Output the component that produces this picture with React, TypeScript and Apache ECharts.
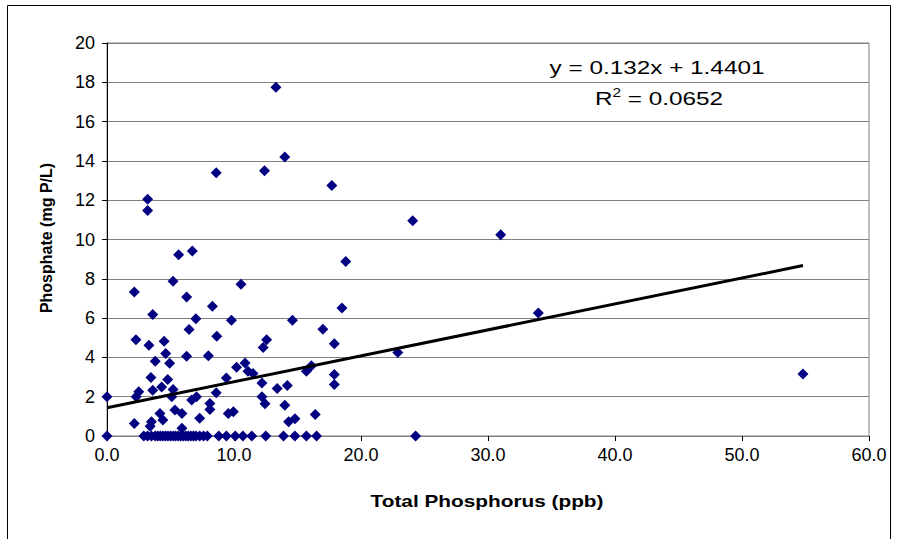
import React, { useEffect, useRef } from "react";
import * as echarts from "echarts";

const pointsX: number[] = [
  0.0, 2.15, 2.28, 2.15, 2.5, 2.3, 3.2, 3.2, 3.6, 3.3, 3.8, 3.46, 3.6, 4.3, 4.5, 4.62, 4.93, 4.78, 5.2, 5.1,
  5.2, 5.64, 6.72, 6.27, 6.46, 7.0, 6.27, 8.3, 8.64, 7.98, 10.55, 9.8, 10.2, 10.87, 11.1, 11.5, 12.3, 12.57, 12.2, 12.2,
  12.44, 13.4, 14.2, 14.0, 14.3, 14.8, 14.6, 9.4, 9.55, 9.95, 7.3, 5.9, 6.67, 7.05, 8.1, 8.1, 8.6, 5.35, 4.17, 4.4,
  3.5, 3.4, 5.9, 8.6, 12.4, 13.3, 14.0, 17.7, 24.07, 18.8, 18.5, 17.0, 17.9, 22.9, 15.7, 16.1, 17.9, 17.9, 16.4, 31.0,
  33.96, 54.8,
];
const pointsY: number[] = [
  2.0, 7.33, 4.9, 0.64, 2.25, 2.0, 12.05, 11.47, 6.18, 4.62, 3.8, 2.98, 2.33, 2.5, 4.82, 4.2, 3.7, 2.88, 2.37, 2.0,
  7.88, 9.22, 9.41, 7.07, 5.42, 5.97, 4.06, 6.6, 5.08, 4.08, 7.72, 5.89, 3.5, 3.72, 3.3, 3.18, 4.5, 4.9, 2.7, 2.0,
  1.64, 2.42, 2.57, 1.56, 0.73, 0.88, 5.89, 2.95, 1.15, 1.23, 0.9, 1.14, 1.83, 2.0, 1.66, 1.35, 2.2, 1.32, 1.15, 0.81,
  0.73, 0.5, 0.39, 13.4, 13.5, 17.75, 14.2, 12.75, 10.96, 8.88, 6.51, 5.43, 4.7, 4.25, 3.3, 3.57, 3.13, 2.62, 1.1, 10.24,
  6.26, 3.16,
];
const zeroX: number[] = [
  0, 2.9, 3.2, 3.5, 3.8, 4.0, 4.2, 4.4, 4.6, 4.8, 5.0, 5.2, 5.4, 5.6, 5.8, 6.0, 6.2, 6.4, 6.6, 6.8, 7.0, 7.3, 7.6,
  7.9, 8.8, 9.4, 10.1, 10.7, 11.4, 12.5, 13.9, 14.8, 15.7, 16.5, 24.3,
];
const slope = 0.132;
const intercept = 1.4401;
const equationText = "y = 0.132x + 1.4401";
const r2Value = "0.0652";
const xTitle = "Total Phosphorus (ppb)";
const yTitle = "Phosphate (mg P/L)";

export default function App() {
  const ref = useRef<HTMLDivElement>(null);
  useEffect(() => {
    if (!ref.current) return;
    const chart = echarts.init(ref.current, undefined, { renderer: "svg" });
    const data: number[][] = pointsX.map((x, i) => [x, pointsY[i]]);
    zeroX.forEach((x) => data.push([x, 0]));
    const maxX = Math.max(...data.map((d) => d[0]));
    const font = "Arial, 'Liberation Sans', sans-serif";
    chart.setOption({
      animation: false,
      backgroundColor: "#ffffff",
      grid: { left: 107, right: 31, top: 43, bottom: 103, show: true, borderColor: "#808080", borderWidth: 1 },
      xAxis: {
        type: "value",
        min: 0,
        max: 60,
        interval: 10,
        axisLine: { show: true, onZero: false, lineStyle: { color: "#808080", width: 1 } },
        axisTick: { show: true, inside: false, length: 5, lineStyle: { color: "#000" } },
        axisLabel: { formatter: (v: number) => v.toFixed(1), fontSize: 18, color: "#000", fontFamily: font, margin: 10 },
        splitLine: { show: false },
      },
      yAxis: {
        type: "value",
        min: 0,
        max: 20,
        interval: 2,
        axisLine: { show: true, lineStyle: { color: "#000", width: 1 } },
        axisTick: { show: true, inside: false, length: 5, lineStyle: { color: "#000" } },
        axisLabel: { fontSize: 18, color: "#000", fontFamily: font, margin: 12 },
        splitLine: { show: true, lineStyle: { color: "#808080", width: 1 } },
      },
      series: [
        {
          type: "scatter",
          data,
          symbol: "diamond",
          symbolSize: 11,
          itemStyle: { color: "#000080", opacity: 1 },
          z: 3,
        },
        {
          type: "line",
          data: [
            [0, intercept],
            [maxX, slope * maxX + intercept],
          ],
          symbol: "none",
          lineStyle: { color: "#000", width: 3 },
          z: 4,
        },
      ],
      graphic: [
        {
          type: "rect",
          shape: { x: 7.5, y: 5.5, width: 883, height: 545 },
          style: { fill: "none", stroke: "#000", lineWidth: 1 },
          silent: true,
        },
        {
          type: "text",
          x: 657,
          y: 67,
          scaleX: 1.28,
          style: { text: equationText, font: `19px ${font}`, fill: "#000", textAlign: "center", textVerticalAlign: "middle" },
        },
        {
          type: "text",
          x: 659,
          y: 98,
          scaleX: 1.28,
          style: {
            text: `R{sup|2} = ${r2Value}`,
            font: `19px ${font}`,
            fill: "#000",
            textAlign: "center",
            textVerticalAlign: "middle",
            rich: { sup: { fontSize: 12, verticalAlign: "top", padding: [0, 0, 10, 0], fontFamily: font } },
          },
        },
        {
          type: "text",
          x: 487,
          y: 501,
          scaleX: 1.3,
          style: { text: xTitle, font: `bold 16px ${font}`, fill: "#000", textAlign: "center", textVerticalAlign: "middle" },
        },
        {
          type: "text",
          x: 46,
          y: 238,
          rotation: Math.PI / 2,
          style: { text: yTitle, font: `bold 16px ${font}`, fill: "#000", textAlign: "center", textVerticalAlign: "middle" },
        },
      ],
    });
    return () => chart.dispose();
  }, []);
  return <div ref={ref} style={{ position: "fixed", left: 0, top: 0, width: 900, height: 539 }} />;
}
